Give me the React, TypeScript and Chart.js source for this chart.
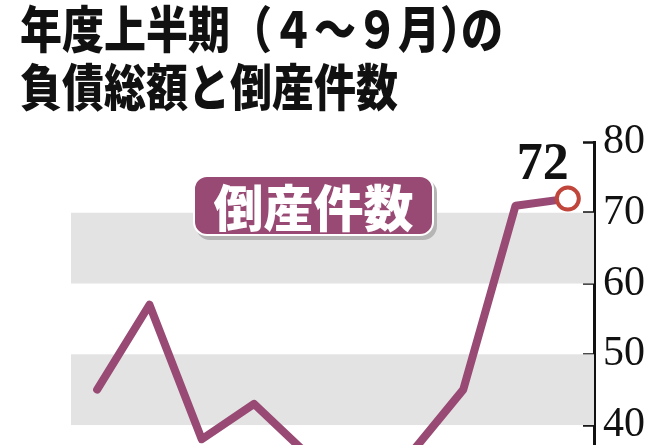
import React, { useEffect, useRef } from "react";
import { Chart, registerables } from "chart.js";

Chart.register(...registerables);

const categories = ["1", "2", "3", "4", "5", "6", "7", "8", "9", "10"];
const counts = [45, 57, 38, 43, 36, 33, 36, 45, 71, 72];
const yTicks = [30, 40, 50, 60, 70, 80];
const bands = [
  [60, 70],
  [40, 50],
  [20, 30],
];
const titleLine1 = ["年度上半期（４～９月", "）", "の"];
const titleLine2 = "負債総額と倒産件数";
const seriesLabel = "倒産件数";
const lastLabel = "72";

const LINE = "#984a75";
const MARKER = "#c0453b";

const bandPlugin = {
  id: "bands",
  beforeDatasetsDraw(chart: any) {
    const { ctx, chartArea, scales } = chart;
    const y = scales.y;
    ctx.save();
    ctx.fillStyle = "#e3e3e3";
    for (const [a, b] of bands) {
      const y1 = y.getPixelForValue(b);
      const y2 = y.getPixelForValue(a);
      ctx.fillRect(chartArea.left, y1, chartArea.right - chartArea.left, y2 - y1);
    }
    ctx.restore();
  },
};

const lastLabelPlugin = {
  id: "lastLabel",
  afterDatasetsDraw(chart: any) {
    const meta = chart.getDatasetMeta(0);
    const pt = meta.data[meta.data.length - 1];
    if (!pt) return;
    const { ctx } = chart;
    ctx.save();
    ctx.fillStyle = "#111";
    ctx.font = "bold 52px 'Liberation Serif', 'DejaVu Serif', serif";
    ctx.textAlign = "center";
    ctx.textBaseline = "alphabetic";
    ctx.fillText(lastLabel, pt.x - 25, pt.y - 20);
    ctx.restore();
  },
};

export default function App() {
  const ref = useRef<HTMLCanvasElement>(null);

  useEffect(() => {
    if (!ref.current) return;
    const chart = new Chart(ref.current, {
      type: "line",
      data: {
        labels: categories,
        datasets: [
          {
            data: counts,
            borderColor: LINE,
            borderWidth: 8,
            borderCapStyle: "round",
            borderJoinStyle: "round",
            tension: 0,
            pointRadius: counts.map((_, i) => (i === counts.length - 1 ? 11 : 0)),
            pointBorderColor: MARKER,
            pointBackgroundColor: "#ffffff",
            pointBorderWidth: 4,
            pointHoverRadius: 0,
          },
        ],
      },
      options: {
        animation: false,
        responsive: false,
        events: [],
        layout: { padding: { left: 71, top: 142, right: 0, bottom: 6 } },
        plugins: { legend: { display: false }, tooltip: { enabled: false }, title: { display: false } },
        scales: {
          x: { type: "category", display: false, offset: true },
          y: {
            position: "right",
            min: yTicks[0],
            max: yTicks[yTicks.length - 1],
            afterBuildTicks(scale: any) {
              scale.ticks = yTicks.map((v) => ({ value: v }));
            },
            afterFit(scale: any) {
              scale.width = 74;
            },
            ticks: {
              color: "#111",
              padding: 20,
              font: { family: "'Liberation Serif', 'DejaVu Serif', serif", size: 42 },
            },
            grid: {
              drawOnChartArea: false,
              drawTicks: true,
              tickLength: -11,
              tickColor: "#111",
              tickWidth: 2.5,
            },
            border: { display: true, color: "#111", width: 3 },
          },
        },
      },
      plugins: [bandPlugin, lastLabelPlugin],
    });
    return () => chart.destroy();
  }, []);

  return (
    <div
      style={{
        position: "absolute",
        left: 0,
        top: 0,
        width: 668,
        height: 445,
        overflow: "hidden",
        background: "#fff",
      }}
    >
      <canvas ref={ref} width={668} height={541} style={{ position: "absolute", left: 0, top: 0, width: 668, height: 541 }} />
      <div
        style={{
          position: "absolute",
          left: 20,
          top: -3,
          fontFamily: "'Noto Sans CJK JP', 'Noto Sans', sans-serif",
          fontWeight: 900,
          fontSize: 50,
          lineHeight: "58px",
          color: "#111",
          whiteSpace: "nowrap",
          transform: "scaleX(0.84)",
          transformOrigin: "0 0",
        }}
      >
        <div>
          {titleLine1[0]}
          <span style={{ letterSpacing: "-0.5em" }}>{titleLine1[1]}</span>
          {titleLine1[2]}
        </div>
        <div>{titleLine2}</div>
      </div>
      <div
        style={{
          position: "absolute",
          left: 193,
          top: 175,
          width: 241,
          height: 61,
          boxSizing: "border-box",
          background: LINE,
          border: "2px solid #fff",
          borderRadius: 14,
          boxShadow: "3px 4px 0 #b5b5b5",
          color: "#fff",
          fontFamily: "'Noto Sans CJK JP', sans-serif",
          fontWeight: 900,
          fontSize: 50,
          lineHeight: "57px",
          textAlign: "center",
          whiteSpace: "nowrap",
        }}
      >
        {seriesLabel}
      </div>
    </div>
  );
}
